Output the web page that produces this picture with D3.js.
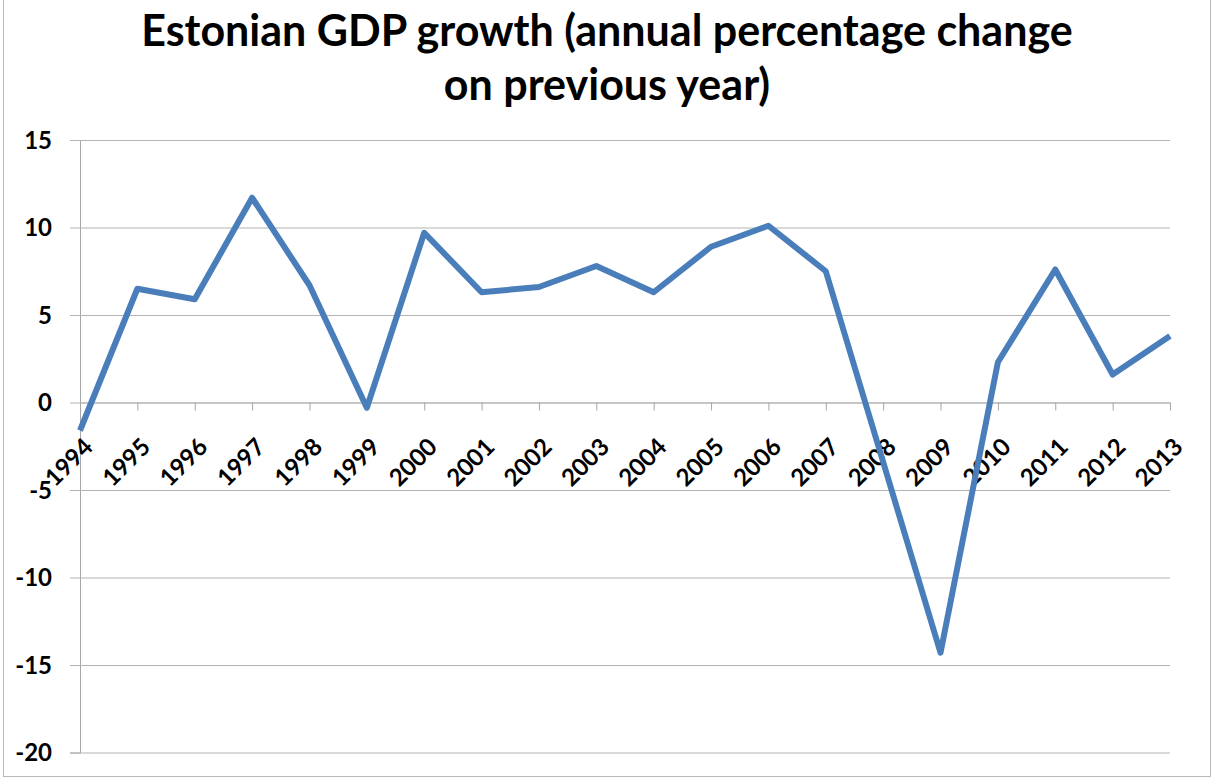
<!DOCTYPE html>
<html lang="en">
<head>
    <meta charset="utf-8">
    <title>Estonian GDP growth</title>
    <script src="https://d3js.org/d3.v7.min.js" charset="utf-8"></script>
    <style type="text/css">
        body{
          margin: 0;
          background: #fff;
        }
        text{
          font-family: Lato, "Open Sans", sans-serif;
          font-weight: bold;
          fill: #000;
        }
    </style>
</head>
<body>
    <script type="text/javascript">

        var years = ["1994","1995","1996","1997","1998","1999","2000","2001","2002","2003",
                     "2004","2005","2006","2007","2008","2009","2010","2011","2012","2013"];
        var growth = [-1.6, 6.5, 5.9, 11.7, 6.7, -0.3, 9.7, 6.3, 6.6, 7.8,
                      6.3, 8.9, 10.1, 7.5, -3.4, -14.3, 2.3, 7.6, 1.6, 3.8];
        var yTicks = [15, 10, 5, 0, -5, -10, -15, -20];
        var titleLines = ["Estonian GDP growth (annual percentage change", "on previous year)"];

        var w = 1214;
        var h = 778;
        // note: "top" is reserved on window, so plot edges get their own names
        var plotLeft = 80, plotRight = 1170, plotTop = 140, plotBottom = 752.5;

        var svg = d3.select("body")
            .append("svg")
            .attr("width", w)
            .attr("height", h);

        // chart frame
        svg.append("rect")
            .attr("x", 3.5).attr("y", -2)
            .attr("width", 1207).attr("height", 778.5)
            .attr("fill", "none")
            .attr("stroke", "#b8b8b8")
            .attr("stroke-width", 1);

        var x = d3.scalePoint()
            .domain(years)
            .range([plotLeft, plotRight]);

        var y = d3.scaleLinear()
            .domain([-20, 15])
            .range([plotBottom, plotTop]);

        // horizontal grid lines + y labels (plain hyphen for minus, like the original)
        svg.append("g")
            .attr("transform", "translate(" + plotLeft + ",0)")
            .call(d3.axisLeft(y).tickValues(yTicks).tickSize(10).tickPadding(18).tickFormat(function(d){ return String(d); }))
            .call(function(g){
                g.select(".domain").attr("stroke", "#a6a6a6");
                g.selectAll(".tick line").attr("stroke", "#b3b3b3");
                g.selectAll(".tick").append("line")
                    .attr("x1", 0).attr("x2", plotRight - plotLeft)
                    .attr("stroke", "#b3b3b3");
                g.selectAll(".tick text")
                    .attr("font-size", "24px")
                    .attr("font-family", "Lato, sans-serif")
                    .attr("font-weight", "bold")
                    .attr("fill", "#000")
                    .attr("dy", "0.35em");
            });

        // x axis on the zero line
        svg.append("g")
            .attr("transform", "translate(0," + y(0) + ")")
            .call(d3.axisBottom(x).tickSize(8).tickPadding(0))
            .call(function(g){
                g.select(".domain").attr("stroke", "#b3b3b3");
                g.selectAll(".tick line").attr("stroke", "#a6a6a6");
                g.selectAll(".tick text")
                    .attr("font-size", "24px")
                    .attr("font-family", "Lato, sans-serif")
                    .attr("font-weight", "bold")
                    .attr("fill", "#000")
                    .attr("text-anchor", "end")
                    .attr("y", 0)
                    .attr("dy", "0.35em")
                    .attr("transform", "translate(8,40) rotate(-45)");
            });

        var line = d3.line()
            .x(function(d, i){ return x(years[i]); })
            .y(function(d){ return y(d); });

        svg.append("path")
            .datum(growth)
            .attr("d", line)
            .attr("fill", "none")
            .attr("stroke", "#4a7ebb")
            .attr("stroke-width", 6)
            .attr("stroke-linejoin", "round");

        svg.append("g").selectAll("text")
            .data(titleLines)
            .enter()
            .append("text")
            .text(function(d){ return d; })
            .attr("x", 607)
            .attr("y", function(d, i){ return 46 + i * 54; })
            .attr("text-anchor", "middle")
            .attr("font-size", "43px");

    </script>
</body>
</html>
